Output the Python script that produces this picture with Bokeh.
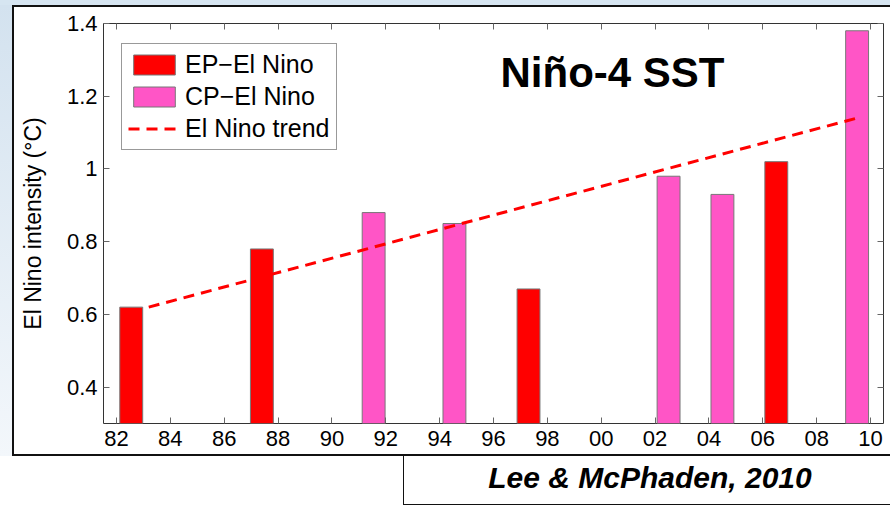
from bokeh.plotting import figure
from bokeh.models import (Range1d, FixedTicker, LinearAxis, NumeralTickFormatter,
                          Label, ColumnDataSource, Div, Spacer)
from bokeh.layouts import column, row
from bokeh.embed import file_html
from bokeh.resources import INLINE

# ---------------- data ----------------
ep_years = [1982.55, 1987.4, 1997.3, 2006.5]
ep_values = [0.62, 0.78, 0.67, 1.02]
cp_years = [1991.55, 1994.55, 2002.5, 2004.5, 2009.5]
cp_values = [0.88, 0.85, 0.98, 0.93, 1.38]
trend_years = [1983.2, 2009.5]
trend_values = [0.62, 1.14]
x_ticks = list(range(1982, 2011, 2))
x_tick_labels = {t: f"{t % 100:02d}" for t in x_ticks}
y_ticks = [0.4, 0.6, 0.8, 1.0, 1.2, 1.4]
citation = "Lee &amp; McPhaden, 2010"

FONT = "Liberation Sans"
EP_COLOR = "#ff0000"
CP_COLOR = "#ff55c6"

W, H = 890, 456
p = figure(width=W, height=H, output_backend="svg", toolbar_location=None,
           x_range=Range1d(1981.52, 2010.48), y_range=Range1d(0.3, 1.4),
           min_border_left=103, min_border_right=7, min_border_top=23,
           min_border_bottom=33, x_axis_location=None, y_axis_location=None)
p.background_fill_color = "white"
p.border_fill_alpha = 0.0
p.outline_line_color = "#333333"
p.outline_line_width = 1
p.grid.visible = False

# slide decoration (blue strips and white panel with black border) behind canvas
p.styles = {
    "background-color": "white",
    "background-image": ("linear-gradient(#111,#111), linear-gradient(#111,#111), "
                         "linear-gradient(#111,#111), "
                         "linear-gradient(to bottom, #d3e2ef, #f3f7fb), "
                         "linear-gradient(#d6e5f1,#d6e5f1)"),
    "background-size": "100% 2px, 2px 451px, 100% 2px, 12px 451px, 100% 5px",
    "background-position": "12px 5px, 12px 5px, 12px 454px, 0px 5px, 0px 0px",
    "background-repeat": "no-repeat",
}

# bars
ep_src = ColumnDataSource(dict(x=ep_years, top=ep_values))
cp_src = ColumnDataSource(dict(x=cp_years, top=cp_values))
p.vbar(x="x", top="top", bottom=0, width=0.85, source=ep_src,
       fill_color=EP_COLOR, line_color="#777777", line_width=1,
       legend_label="EP\u2212El Nino")
p.vbar(x="x", top="top", bottom=0, width=0.85, source=cp_src,
       fill_color=CP_COLOR, line_color="#777777", line_width=1,
       legend_label="CP\u2212El Nino")
p.line(trend_years, trend_values, line_color="#ff0000", line_width=3,
       line_dash="11 7", legend_label="El Nino trend")

# axes
def style_axis(ax, labels=True):
    ax.axis_line_color = None
    ax.major_tick_in = 6
    ax.major_tick_out = 0
    ax.major_tick_line_color = "#666666"
    ax.minor_tick_line_color = None
    if labels:
        ax.major_label_text_font = FONT
        ax.major_label_text_font_size = "22px"
        ax.major_label_text_color = "black"
    else:
        ax.major_label_text_font_size = "0px"
        ax.major_label_text_alpha = 0
        ax.major_label_standoff = 0

xb = LinearAxis(ticker=FixedTicker(ticks=x_ticks), major_label_overrides=x_tick_labels)
style_axis(xb)
xb.major_label_standoff = 7
p.add_layout(xb, "below")

xt = LinearAxis(ticker=FixedTicker(ticks=x_ticks))
style_axis(xt, labels=False)
p.add_layout(xt, "above")

yl = LinearAxis(ticker=FixedTicker(ticks=y_ticks),
                formatter=NumeralTickFormatter(format="0.[0]"),
                axis_label="El Nino intensity (\u00b0C)")
style_axis(yl)
yl.major_label_standoff = 6
yl.axis_label_text_font = FONT
yl.axis_label_text_font_size = "23px"
yl.axis_label_text_font_style = "normal"
yl.axis_label_text_color = "black"
yl.axis_label_standoff = 18
p.add_layout(yl, "left")

yr = LinearAxis(ticker=FixedTicker(ticks=y_ticks))
style_axis(yr, labels=False)
p.add_layout(yr, "right")

# legend
lg = p.legend[0]
lg.location = (18, 273)
lg.label_text_font = FONT
lg.label_text_font_size = "25px"
lg.label_text_color = "black"
lg.glyph_width = 52
lg.glyph_height = 25
lg.label_height = 25
lg.label_standoff = 5
lg.spacing = 3
lg.padding = 6
lg.margin = 0
lg.border_line_color = "#333333"
lg.border_line_width = 1
lg.background_fill_alpha = 1.0

# title inside plot
p.add_layout(Label(x=397, y=351, x_units="screen", y_units="screen",
                   text="Niño-4 SST", text_font=FONT, text_font_size="42px",
                   text_font_style="bold", text_color="black",
                   text_baseline="middle", text_align="left"))

# citation box below the panel
cite = Div(width=487, height=49,
           text=(f'<div style="width:492px;text-align:center;line-height:44px;'
                 f'font-family:\'Liberation Sans\',Arial,sans-serif;font-size:30px;'
                 f'font-weight:bold;font-style:italic;color:black;'
                 f'white-space:nowrap">{citation}</div>'),
           styles={"border-left": "1.5px solid #111", "border-bottom": "1.5px solid #111",
                   "box-sizing": "border-box", "background-color": "white",
                   "overflow": "visible", "margin": "0px", "padding": "0px"})
layout = column(p, row(Spacer(width=403, height=49), cite, spacing=0), spacing=0)

open("out.html", "w").write(file_html(layout, INLINE))
